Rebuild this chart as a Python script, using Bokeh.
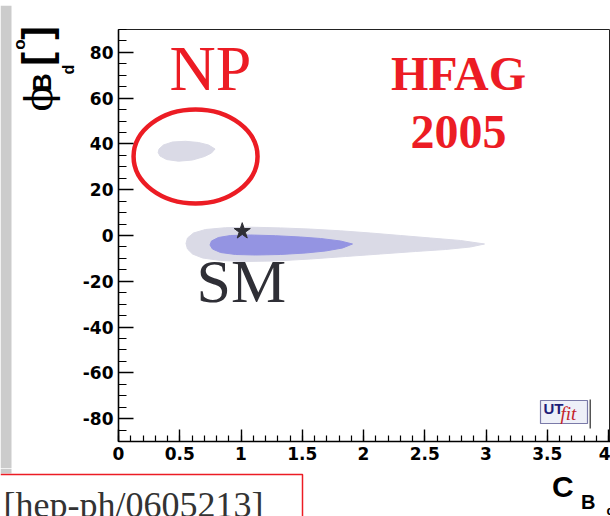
from math import pi

from bokeh.embed import file_html
from bokeh.layouts import column, row
from bokeh.models import BoxAnnotation, Label, Range1d, SingleIntervalTicker
from bokeh.plotting import figure
from bokeh.resources import INLINE

# ---- fit regions in the (C_Bd, phi_Bd [deg]) plane ----
# outer (95%) region around the SM solution
sm_outer_c = [2.988, 2.792, 2.547, 2.302, 2.057, 1.812, 1.567, 1.322, 1.078, 0.873,
              0.710, 0.612, 0.563, 0.551, 0.563, 0.604, 0.686, 0.833, 1.037, 1.282,
              1.567, 1.853, 2.139, 2.424, 2.669, 2.873]
sm_outer_phi = [-3.71, -2.18, -1.09, 0.0, 1.09, 2.05, 2.80, 3.32, 3.63, 3.41,
                2.62, 1.09, -1.09, -3.49, -5.90, -8.08, -9.83, -10.92, -11.36, -11.14,
                -10.27, -9.17, -8.08, -6.99, -6.12, -5.02]

# inner (68%) region around the SM solution
sm_inner_c = [1.910, 1.812, 1.649, 1.486, 1.282, 1.078, 0.914, 0.816, 0.759, 0.747,
              0.767, 0.833, 0.955, 1.118, 1.322, 1.527, 1.690, 1.829]
sm_inner_phi = [-3.71, -2.40, -1.31, -0.66, -0.09, 0.22, 0.0, -0.87, -2.40, -4.15,
                -5.90, -7.43, -8.30, -8.52, -8.30, -7.65, -6.77, -5.46]

# second (new physics) solution
np_c = [0.788, 0.735, 0.653, 0.547, 0.441, 0.367, 0.331, 0.324, 0.339, 0.392,
        0.490, 0.604, 0.702, 0.759]
np_phi = [37.79, 39.54, 40.63, 41.15, 40.85, 39.54, 37.79, 36.26, 34.73, 33.20,
          32.46, 32.98, 34.51, 36.04]

# Standard Model point
sm_point_c = [1.01]
sm_point_phi = [1.9]

# ring marking the NP solution
np_ring_c = [0.629]
np_ring_phi = [34.5]
np_ring_w = [1.012]
np_ring_h = [41.1]

# axis tick labels (plain hyphen for negative angles)
phi_tick_labels = {-80: "-80", -60: "-60", -40: "-40", -20: "-20"}
c_tick_labels = {0: "0", 1: "1", 2: "2", 3: "3", 4: "4"}

# ---- colours ----
RED = "#ec1c24"
OUTER = "#dadae6"
INNER = "#9494e2"
DARK = "#2f2f36"
GREY = "#cccccc"

# ---- page geometry (pixels) ----
PAGE_W = 610
TOP_H = 5          # grey strip along the top
MID_H = 463        # row holding the y title and the plot
BOT_H = 48         # caption strip
LEFT_W = 76        # column holding the y title
MAIN_W = PAGE_W - LEFT_W
MAIN_BORDER_L = 118 - LEFT_W
MAIN_BORDER_T = 29 - TOP_H
MAIN_BORDER_B = TOP_H + MID_H - 441
STRIP_END = 473    # page y where the grey side strip stops

BASE_SHIFT = 0.38  # em offset between requested and drawn text baseline


def label(fig, origin, x, y, text, size, font="Liberation Sans", style="bold",
          color="black", align="left", angle=0.0):
    """Place a text at page pixel (x, y) = its baseline start."""
    ox, oy = origin
    lx, ly = x - ox, y - oy
    if angle:
        lx -= BASE_SHIFT * size
    else:
        ly -= BASE_SHIFT * size
    fig.add_layout(Label(x=lx, y=ly, x_units="canvas", y_units="canvas", text=text,
                         text_font=font, text_font_style=style,
                         text_font_size=f"{size}px", text_color=color,
                         text_align=align, text_baseline="alphabetic", angle=angle))


def blank(width, height, bg="white"):
    f = figure(width=width, height=height, x_range=Range1d(0, width), y_range=Range1d(0, height),
               output_backend="svg", toolbar_location=None, title=None, frame_align=False,
               min_border_left=0, min_border_right=0, min_border_top=0, min_border_bottom=0,
               x_axis_location=None, y_axis_location=None, outline_line_color=None,
               background_fill_color=bg, border_fill_color=bg)
    f.grid.visible = False
    return f


# ---- main plot ----
p = figure(
    width=MAIN_W, height=MID_H, title=None, frame_align=False,
    x_range=Range1d(0, 4.016), y_range=Range1d(-90, 90),
    output_backend="svg", toolbar_location=None,
    min_border_left=MAIN_BORDER_L, min_border_right=0,
    min_border_top=MAIN_BORDER_T, min_border_bottom=MAIN_BORDER_B,
    background_fill_color="white", border_fill_color="white",
)
p.grid.visible = False
p.outline_line_color = "#222222"
p.outline_line_width = 1

for ax in (p.xaxis[0], p.yaxis[0]):
    ax.axis_line_width = 1.6
    ax.axis_line_color = "black"
    ax.major_tick_line_color = "black"
    ax.minor_tick_line_color = "black"
    ax.major_tick_line_width = 1.4
    ax.minor_tick_line_width = 1.2
    ax.major_tick_out = 0
    ax.minor_tick_out = 0
    ax.major_label_text_font = "DejaVu Sans"
    ax.major_label_text_font_style = "bold"
    ax.major_label_text_font_size = "17px"
    ax.major_label_text_color = "black"

p.xaxis.ticker = SingleIntervalTicker(interval=0.5, num_minor_ticks=5)
p.xaxis.major_tick_in = 12
p.xaxis.minor_tick_in = 6
p.xaxis.major_label_standoff = 5
p.xaxis.major_label_overrides = c_tick_labels

p.yaxis.ticker = SingleIntervalTicker(interval=20, num_minor_ticks=4)
p.yaxis.major_tick_in = 15
p.yaxis.minor_tick_in = 8
p.yaxis.major_label_standoff = 5
p.yaxis.major_label_overrides = phi_tick_labels

# fit regions
p.patch(sm_outer_c, sm_outer_phi, fill_color=OUTER, line_color=OUTER, line_width=1)
p.patch(np_c, np_phi, fill_color=OUTER, line_color=OUTER, line_width=1)
p.patch(sm_inner_c, sm_inner_phi, fill_color=INNER, line_color=INNER, line_width=1)

# SM point and the ring around the NP solution
p.scatter(sm_point_c, sm_point_phi, marker="star", size=17, fill_color=DARK, line_color=DARK)
p.ellipse(x=np_ring_c, y=np_ring_phi, width=np_ring_w, height=np_ring_h,
          fill_color=None, line_color=RED, line_width=4.5)

MAIN_O = (LEFT_W, TOP_H)
label(p, MAIN_O, 169, 92, "NP", 64, font="Liberation Serif", style="normal", color=RED)
label(p, MAIN_O, 458, 91.5, "HFAG", 48, font="Liberation Serif", color=RED, align="center")
label(p, MAIN_O, 458, 149.5, "2005", 48, font="Liberation Serif", color=RED, align="center")
label(p, MAIN_O, 196, 304, "SM", 62, font="Liberation Serif", style="normal", color=DARK)

# UTfit logo
p.add_layout(BoxAnnotation(left=540 - LEFT_W, right=587 - LEFT_W, top=400 - TOP_H, bottom=423 - TOP_H,
                           left_units="canvas", right_units="canvas",
                           top_units="canvas", bottom_units="canvas",
                           fill_color="#eef0f8", fill_alpha=1,
                           line_color="#7a7aa8", line_alpha=1, line_width=1.2))
p.add_layout(BoxAnnotation(left=589 - LEFT_W, right=590.5 - LEFT_W, top=399 - TOP_H, bottom=428 - TOP_H,
                           left_units="canvas", right_units="canvas",
                           top_units="canvas", bottom_units="canvas",
                           fill_color="#555555", fill_alpha=1, line_alpha=0))
label(p, MAIN_O, 543, 413.5, "UT", 15, color="#1e1e78")
label(p, MAIN_O, 560, 420.5, "fit", 19, font="Liberation Serif", style="italic", color="#c41f2a")

# ---- grey strip along the top ----
top = blank(PAGE_W, TOP_H, bg=GREY)

# ---- y axis title: phi_Bd [deg] ----
left = blank(LEFT_W, MID_H)
left.quad(left=[0], right=[11], bottom=[0], top=[MID_H], fill_color=GREY, line_color=None)
LEFT_O = (0, TOP_H)
label(left, LEFT_O, 53, 111, "\u03d5", 38, font="DejaVu Serif", style="normal", angle=pi / 2)
label(left, LEFT_O, 51, 91, "B", 25, angle=pi / 2)
label(left, LEFT_O, 74.5, 74, "d", 16, angle=pi / 2)
label(left, LEFT_O, 52, 58.5, "[", 41, align="center", angle=pi / 2)
label(left, LEFT_O, 25, 44, "o", 17, align="center", angle=pi / 2)
label(left, LEFT_O, 52, 32.5, "]", 41, align="center", angle=pi / 2)

# ---- caption strip: reference box and x axis title C_Bd ----
bottom = blank(PAGE_W, BOT_H)
BOT_O = (0, TOP_H + MID_H)
strip_rest = STRIP_END - BOT_O[1]
bottom.quad(left=[0], right=[11], bottom=[BOT_H - strip_rest], top=[BOT_H],
            fill_color=GREY, line_color=None)
box_top = BOT_H - (STRIP_END + 1 - BOT_O[1])
bottom.line([0, 302, 302], [box_top, box_top, -5], line_color=RED, line_width=1.5)
label(bottom, BOT_O, 3, 518, "[hep-ph/0605213]", 36, font="Liberation Serif", style="normal",
      color="#333333")
label(bottom, BOT_O, 551.5, 497, "C", 30)
label(bottom, BOT_O, 580.5, 509, "B", 20)
label(bottom, BOT_O, 606, 515, "d", 13)

page = column(top, row(left, p, spacing=0), bottom, spacing=0)

open("out.html", "w").write(file_html(page, INLINE))
